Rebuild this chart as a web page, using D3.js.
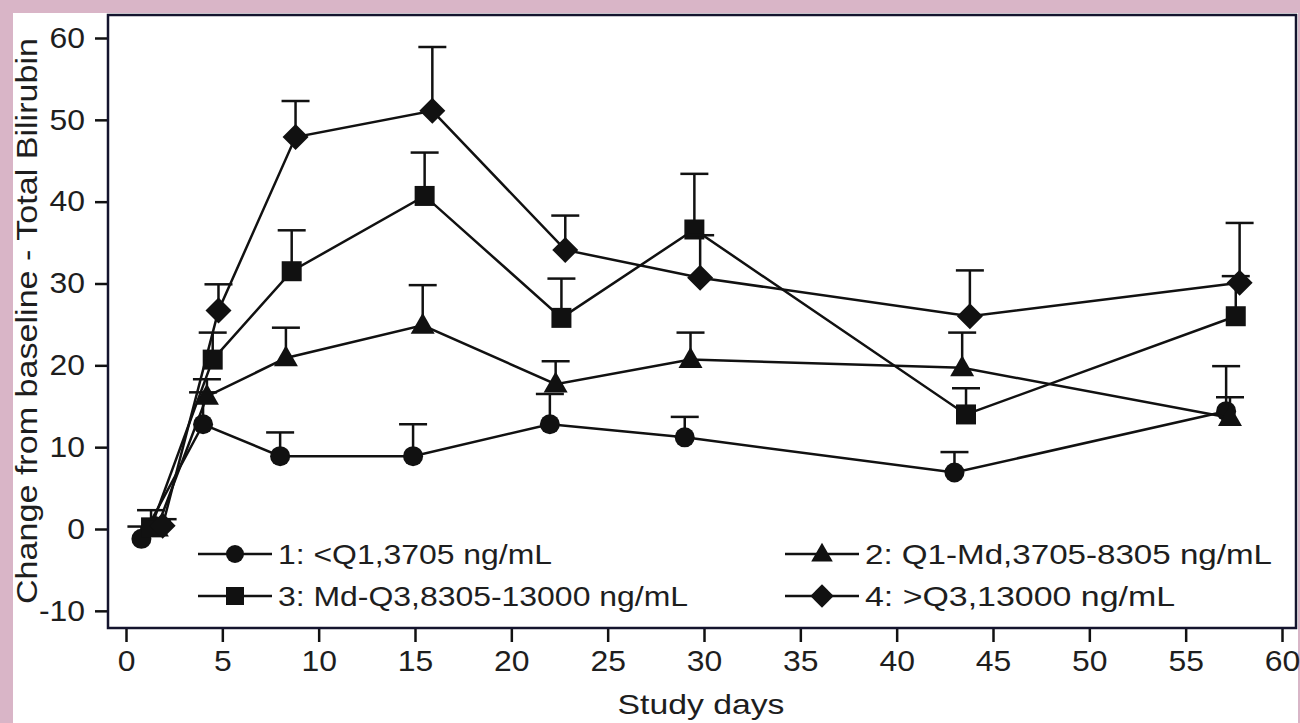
<!DOCTYPE html>
<html>
<head>
<meta charset="utf-8">
<script src="https://cdn.jsdelivr.net/npm/d3@7"></script>
<style>
  html, body { margin: 0; padding: 0; background: #d9b5c7; }
  svg { display: block; }
  text { font-family: "Liberation Sans", Arial, sans-serif; fill: #1e1e1e; }
</style>
</head>
<body>
<svg id="chart" width="1300" height="723"></svg>
<script>
// ---- data ----
const xTicks = [0, 5, 10, 15, 20, 25, 30, 35, 40, 45, 50, 55, 60];
const yTicks = [-10, 0, 10, 20, 30, 40, 50, 60];
const seriesNames = ["1: <Q1,3705 ng/mL", "2: Q1-Md,3705-8305 ng/mL", "3: Md-Q3,8305-13000 ng/mL", "4: >Q3,13000 ng/mL"];
const seriesSymbols = ["circle", "triangle", "square", "diamond"];

const days1  = [0.8, 4.0, 8.0, 14.9, 22.0, 29.0, 43.0, 57.1];
const mean1  = [-1.2, 12.8, 8.9, 8.9, 12.8, 11.2, 6.9, 14.4];
const upper1 = [0.3, 16.7, 11.8, 12.8, 16.5, 13.7, 9.4, 19.9];

const days2  = [1.6, 4.2, 8.3, 15.4, 22.3, 29.3, 43.4, 57.3];
const mean2  = [0.1, 16.2, 20.9, 24.9, 17.7, 20.7, 19.7, 13.6];
const upper2 = [1.0, 18.3, 24.6, 29.8, 20.5, 24.0, 24.0, 16.1];

const days3  = [1.3, 4.5, 8.6, 15.5, 22.6, 29.5, 43.6, 57.6];
const mean3  = [0.2, 20.7, 31.5, 40.7, 25.8, 36.6, 14.0, 26.0];
const upper3 = [2.3, 24.0, 36.5, 46.0, 30.6, 43.4, 17.2, 30.9];

const days4  = [1.9, 4.8, 8.8, 15.9, 22.8, 29.8, 43.8, 57.8];
const mean4  = [0.4, 26.7, 47.9, 51.1, 34.1, 30.7, 26.0, 30.1];
const upper4 = [1.2, 29.9, 52.3, 58.9, 38.3, 35.9, 31.6, 37.4];

const seriesDays = [days1, days2, days3, days4];
const seriesMean = [mean1, mean2, mean3, mean4];
const seriesUpper = [upper1, upper2, upper3, upper4];

// ---- layout ----
const svg = d3.select("#chart");
svg.append("rect").attr("x", 13).attr("y", 13).attr("width", 1285).attr("height", 710).attr("fill", "#fff");

const frame = {left: 108, top: 15, right: 1296, bottom: 628};
const x = d3.scaleLinear().domain([0, 60]).range([126, 1282]);
const y = d3.scaleLinear().domain([0, 60]).range([529, 38]);

const ink = "#111";

function widen(sel, factor) {
  sel.each(function () {
    const w = this.getComputedTextLength();
    d3.select(this).attr("textLength", w * factor).attr("lengthAdjust", "spacingAndGlyphs");
  });
}

// axes
const xAxis = svg.append("g").attr("transform", `translate(0,${frame.bottom})`)
  .call(d3.axisBottom(x).tickValues(xTicks).tickSize(14).tickPadding(8).tickFormat(d3.format("d")));
xAxis.select(".domain").remove();
xAxis.selectAll("line").attr("stroke", ink).attr("stroke-width", 2.5);
xAxis.selectAll("text").attr("font-size", 29).attr("fill", "#1e1e1e").attr("font-family", "Liberation Sans, Arial, sans-serif");
widen(xAxis.selectAll("text"), 1.1);

const yAxis = svg.append("g").attr("transform", `translate(${frame.left},0)`)
  .call(d3.axisLeft(y).tickValues(yTicks).tickFormat(d => d < 0 ? "-" + Math.abs(d) : d).tickSize(13).tickPadding(10));
yAxis.select(".domain").remove();
yAxis.selectAll("line").attr("stroke", ink).attr("stroke-width", 2.5);
yAxis.selectAll("text").attr("font-size", 29).attr("fill", "#1e1e1e").attr("font-family", "Liberation Sans, Arial, sans-serif");
widen(yAxis.selectAll("text"), 1.1);

// frame
svg.append("rect").attr("x", frame.left).attr("y", frame.top)
  .attr("width", frame.right - frame.left).attr("height", frame.bottom - frame.top)
  .attr("fill", "none").attr("stroke", "#14142e").attr("stroke-width", 2.5);

// titles
svg.append("text").attr("x", 701).attr("y", 714).attr("text-anchor", "middle")
  .attr("font-size", 28).attr("textLength", 167).attr("lengthAdjust", "spacingAndGlyphs").text("Study days");
svg.append("text").attr("transform", "translate(37,321) rotate(-90)").attr("text-anchor", "middle")
  .attr("font-size", 29).attr("textLength", 566).attr("lengthAdjust", "spacingAndGlyphs")
  .text("Change from baseline - Total Bilirubin");

// symbols
function symbolPath(kind, s) {
  if (kind === "circle") return d3.symbol(d3.symbolCircle, Math.PI * (10 * s) * (10 * s))();
  if (kind === "square") { const h = 10 * s; return `M${-h},${-h}H${h}V${h}H${-h}Z`; }
  if (kind === "diamond") { const h = 13 * s; return `M0,${-h}L${h},0L0,${h}L${-h},0Z`; }
  if (kind === "triangle") { const w = 12 * s, ht = 21 * s; return `M0,${-ht * 0.6}L${w},${ht * 0.4}L${-w},${ht * 0.4}Z`; }
}

const line = d3.line().x(d => x(d[0])).y(d => y(d[1]));

seriesDays.forEach((days, i) => {
  const pts = days.map((d, j) => [d, seriesMean[i][j], seriesUpper[i][j]]);
  const g = svg.append("g");
  pts.forEach(p => {
    g.append("line").attr("x1", x(p[0])).attr("x2", x(p[0])).attr("y1", y(p[1])).attr("y2", y(p[2]))
      .attr("stroke", ink).attr("stroke-width", 2.5);
    g.append("line").attr("x1", x(p[0]) - 14).attr("x2", x(p[0]) + 14).attr("y1", y(p[2])).attr("y2", y(p[2]))
      .attr("stroke", ink).attr("stroke-width", 2.5);
  });
  g.append("path").datum(pts).attr("d", line).attr("fill", "none").attr("stroke", ink).attr("stroke-width", 2.5);
  g.selectAll("path.m").data(pts).join("path").attr("class", "m")
    .attr("transform", p => `translate(${x(p[0])},${y(p[1])})`)
    .attr("d", symbolPath(seriesSymbols[i], 1)).attr("fill", ink);
});

// legend
const legPos = [[198, 554], [785, 554], [198, 596], [785, 596]];
const legWidths = [274, 407, 410, 310];
seriesNames.forEach((name, i) => {
  const [lx, ly] = legPos[i];
  const g = svg.append("g").attr("transform", `translate(${lx},${ly})`);
  g.append("line").attr("x1", 0).attr("x2", 74).attr("y1", 0).attr("y2", 0).attr("stroke", ink).attr("stroke-width", 2.5);
  g.append("path").attr("transform", "translate(37,0)").attr("d", symbolPath(seriesSymbols[i], 0.9)).attr("fill", ink);
  g.append("text").attr("x", 80).attr("y", 10).attr("font-size", 28)
    .attr("textLength", legWidths[i]).attr("lengthAdjust", "spacingAndGlyphs").text(name);
});
</script>
</body>
</html>
